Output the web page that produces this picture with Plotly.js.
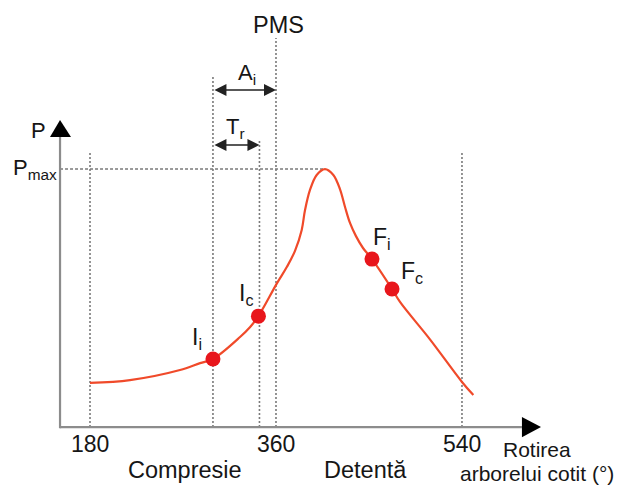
<!DOCTYPE html>
<html>
<head>
<meta charset="utf-8">
<script src="https://cdn.plot.ly/plotly-3.0.1.min.js"></script>
<style>html,body{margin:0;padding:0;background:#fff;}#chart{width:627px;height:488px;}</style>
</head>
<body>
<div id="chart"></div>
<script>
// Pressure curve vs crank angle
const angle = [180, 218.7, 267.1, 286.5, 299, 325.2, 335, 343, 361, 370.6, 378.4, 384.9, 388.1, 392.9, 399.4, 407.4, 415.5, 421.9, 426.8, 431.6, 437.4, 444.2, 452.9, 472.3, 480, 509, 540, 551];
const pressure = [17.1, 18.2, 22.1, 24.8, 26.4, 34.9, 38.8, 43, 55.8, 62.1, 68.3, 76.4, 84.1, 91.9, 97.7, 100, 97.7, 92.2, 85.3, 79.1, 74.0, 69.4, 65.1, 53.5, 48.5, 34, 17.5, 12.4];

// Marked events on the curve
const pointNames = ['I<sub>i</sub>', 'I<sub>c</sub>', 'F<sub>i</sub>', 'F<sub>c</sub>'];
const pointAngle = [299, 343, 452.9, 472.3];
const pointPressure = [26.4, 43, 65.1, 53.5];

// Axis ticks
const tickVals = [180, 360, 540];
const tickText = ['180', '360', '540'];

// Reference angles / levels
const pmsAngle = 360;
const peakAngle = 407.4;
const pMax = 100;
const startAngle = 180;
const endAngle = 540;

// Phase labels
const phaseNames = ['Compresie', 'Detentă'];
const phaseAngle = [272, 447];

// x-axis title lines
const xTitleLines = ['Rotirea', 'arborelui cotit (°)'];

const FONT = 'Liberation Sans, Arial, Helvetica, sans-serif';
const TXT = '#161616';
const DOT = {color: '#7a7a7a', width: 1.6, dash: '2px,2px'};

// layout geometry (axes)
const X0 = 151, XTIP = 616.5, XBASE = 598;
const YTIP = 119, YBASE = 112.4;

const shapes = [];
// vertical dotted guide lines: [angle, top]
[[startAngle, 106.2], [pointAngle[0], 135.7], [pointAngle[1] + 1, 111.2], [pmsAngle, 150.8], [endAngle, 106.2]].forEach(([a, top]) => {
  shapes.push({type: 'line', xref: 'x', yref: 'y', x0: a, x1: a, y0: 0, y1: top, line: DOT, layer: 'below'});
});
// Pmax dashed line
shapes.push({type: 'line', xref: 'x', yref: 'y', x0: X0, x1: peakAngle, y0: pMax, y1: pMax,
  line: {color: '#7a7a7a', width: 1.6, dash: '3px,2px'}, layer: 'below'});
// axes
shapes.push({type: 'line', xref: 'x', yref: 'y', x0: X0, x1: X0, y0: -0.4, y1: YBASE, line: {color: '#8c8c8c', width: 2.2}});
shapes.push({type: 'line', xref: 'x', yref: 'y', x0: X0, x1: XBASE, y0: 0, y1: 0, line: {color: '#8c8c8c', width: 2.2}});
// arrow heads
shapes.push({type: 'path', xref: 'x', yref: 'y', path: `M ${XBASE} 3.9 L ${XTIP} 0 L ${XBASE} -3.9 Z`, fillcolor: '#000', line: {width: 0}});
shapes.push({type: 'path', xref: 'x', yref: 'y', path: `M 141.3 ${YBASE} L ${X0} ${YTIP} L 161.6 ${YBASE} Z`, fillcolor: '#000', line: {width: 0}});

const annotations = [];
const txt = (x, y, text, size, opts) => Object.assign({xref: 'x', yref: 'y', x, y, text, showarrow: false,
  font: {family: FONT, size: size, color: TXT}}, opts || {});

// tick labels
tickVals.forEach((v, i) => annotations.push(txt(v, 0, tickText[i], 23, {yshift: -17})));
// phase labels
phaseNames.forEach((n, i) => annotations.push(txt(phaseAngle[i], 0, n, 23.5, {yshift: -43})));
// event labels
const offs = [[-16, 20], [-12, 22], [10, 21], [20, 17]];
pointNames.forEach((n, i) => annotations.push(txt(pointAngle[i], pointPressure[i], n, 23,
  {xshift: offs[i][0], yshift: offs[i][1]})));
// PMS
annotations.push(txt(pmsAngle, 150.8, 'PMS', 23.5, {xshift: 3, yshift: 13}));
// Axis labels
annotations.push(txt(X0, YTIP, 'P', 22, {xshift: -22, yshift: -10}));
annotations.push(txt(X0, pMax, 'P<sub>max</sub>', 22, {xshift: -25, yshift: 0}));
// x-axis title (two lines)
const xTitleY = [0.078, 0.029];
xTitleLines.forEach((t, i) => annotations.push({xref: 'paper', yref: 'paper', x: 0.857, y: xTitleY[i],
  xanchor: 'center', yanchor: 'middle', text: t, showarrow: false, borderpad: 0,
  font: {family: FONT, size: 21, color: TXT}}));
// A_i and T_r labels
annotations.push(txt((pointAngle[0] + pmsAngle) / 2, 130.6, 'A<sub>i</sub>', 22, {xshift: 3, yshift: 16}));
annotations.push(txt((pointAngle[0] + pointAngle[1]) / 2, 109.3, 'T<sub>r</sub>', 22, {xshift: 0, yshift: 17}));
// double arrows
[[pointAngle[0], pmsAngle, 130.6], [pointAngle[0], pointAngle[1] + 1, 109.3]].forEach(([a0, a1, p]) => {
  annotations.push({xref: 'x', yref: 'y', axref: 'x', ayref: 'y', x: a1, y: p, ax: a0, ay: p, text: '',
    showarrow: true, arrowside: 'end+start', arrowhead: 2, arrowsize: 1.5, arrowwidth: 1.6, arrowcolor: '#222',
    standoff: 0, startstandoff: 0});
});

const traces = [
  {x: angle, y: pressure, type: 'scatter', mode: 'lines',
   line: {color: '#f04a2a', width: 2.2, shape: 'spline', smoothing: 1}, hoverinfo: 'skip'},
  {x: pointAngle, y: pointPressure, type: 'scatter', mode: 'markers',
   marker: {color: '#e8161c', size: 15}, hoverinfo: 'skip'}
];

const layout = {
  width: 627, height: 488,
  margin: {l: 0, r: 0, t: 0, b: 0},
  paper_bgcolor: '#fff', plot_bgcolor: '#fff',
  showlegend: false,
  xaxis: {range: [92.9, 699.7], visible: false, fixedrange: true},
  yaxis: {range: [-23.6, 165.5], visible: false, fixedrange: true},
  shapes, annotations
};

Plotly.newPlot('chart', traces, layout, {staticPlot: true, displayModeBar: false});
</script>
</body>
</html>
